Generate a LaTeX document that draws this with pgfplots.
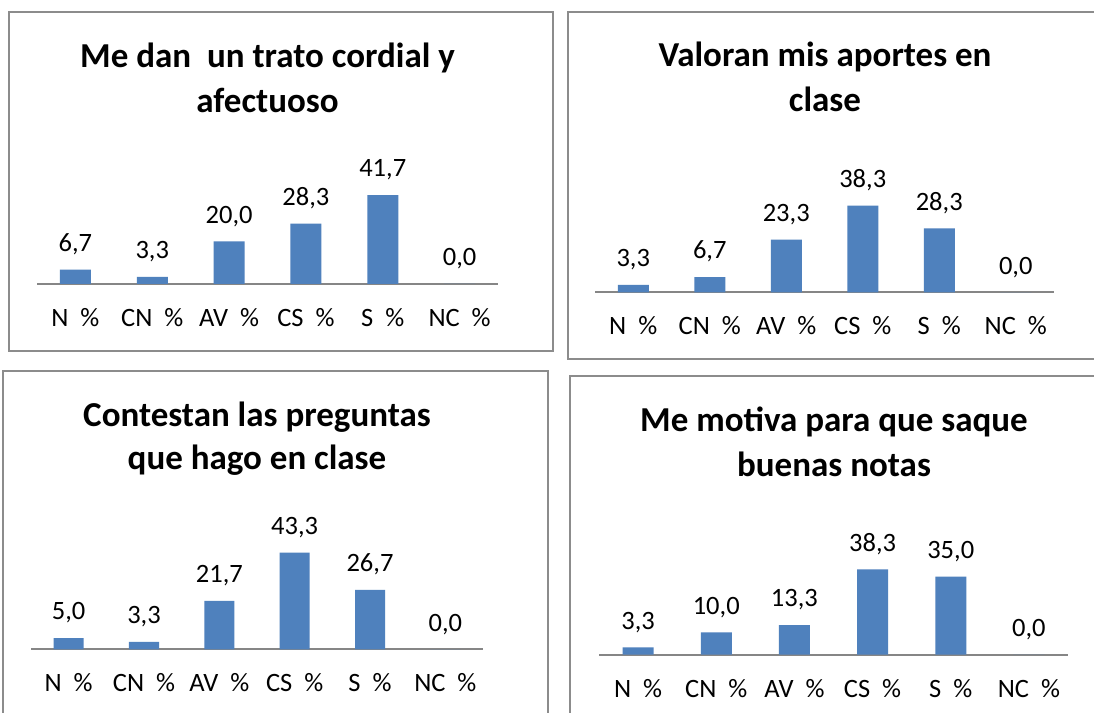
\documentclass[border=0pt]{standalone}
\usepackage{pgfplots}
\pgfplotsset{compat=1.18}
\usepackage{fontspec}
\setmainfont{Carlito}
\definecolor{barblue}{HTML}{4F81BD}
\definecolor{axgray}{HTML}{868686}
\definecolor{boxgray}{HTML}{8C8C8C}
\newcommand{\lblfont}{\fontsize{26.5bp}{31bp}\selectfont}
\newcommand{\ttlfont}{\fontsize{35bp}{42bp}\selectfont\bfseries}
\pgfplotsset{
  panel/.style={
    scale only axis,
    anchor=south west,
    xmin=-0.5, xmax=5.5, ymin=0,
    axis x line=bottom, axis y line=none,
    x axis line style={draw=axgray, line width=1.6bp, -},
    xtick={0,1,2,3,4,5},
    xticklabels={N\ \ \%, CN\ \ \%, AV\ \ \%, CS\ \ \%, S\ \ \%, NC\ \ \%},
    major tick length=0pt,
    ytick=\empty,
    xticklabel style={anchor=base, yshift=-42.5bp, inner sep=0pt, font=\lblfont, text=black},
    ybar, bar width=31bp,
    nodes near coords={\pgfmathprintnumber[fixed,fixed zerofill,precision=1,use comma,assume math mode=true]{\pgfplotspointmeta}},
    every node near coord/.append style={font=\lblfont, inner sep=0pt, text depth=0pt, yshift=18bp, text=black},
    clip=false,
  },
  barstyle/.style={fill=barblue, draw=none},
}
\begin{document}
\begin{tikzpicture}
\useasboundingbox (0,0) rectangle (1094bp,713bp);
\clip (0,0) rectangle (1094bp,713bp);
\fill[white] (0,0) rectangle (1094bp,713bp);
% panel boxes
\draw[boxgray, line width=1.6bp] (9bp,701bp) rectangle (553bp,362bp);
\draw[boxgray, line width=1.6bp] (568bp,701bp) rectangle (1110bp,354bp);
\draw[boxgray, line width=1.6bp] (3bp,342bp) rectangle (548bp,-20bp);
\draw[boxgray, line width=1.6bp] (570bp,337bp) rectangle (1110bp,-20bp);
% titles
\node[anchor=base, inner sep=0pt, font=\ttlfont] at (267.5bp,645bp) {Me dan\ \ un trato cordial y};
\node[anchor=base, inner sep=0pt, font=\ttlfont] at (267.5bp,600bp) {afectuoso};
\node[anchor=base, inner sep=0pt, font=\ttlfont] at (825bp,646.3bp) {Valoran mis aportes en};
\node[anchor=base, inner sep=0pt, font=\ttlfont] at (825bp,601.3bp) {clase};
\node[anchor=base, inner sep=0pt, font=\ttlfont] at (257bp,286.3bp) {Contestan las preguntas};
\node[anchor=base, inner sep=0pt, font=\ttlfont] at (257bp,243bp) {que hago en clase};
\node[anchor=base, inner sep=0pt, font=\ttlfont] at (834bp,281.3bp) {Me motiva para que saque};
\node[anchor=base, inner sep=0pt, font=\ttlfont] at (834bp,236.3bp) {buenas notas};
% panel 1
\begin{axis}[panel, at={(37bp,429bp)}, width=461bp, height=106.5bp, ymax=50]
\addplot[barstyle] coordinates {(0,6.7) (1,3.3) (2,20.0) (3,28.3) (4,41.7) (5,0.0)};
\end{axis}
% panel 2
\begin{axis}[panel, at={(595bp,420.7bp)}, width=459bp, height=101.7bp, ymax=45]
\addplot[barstyle] coordinates {(0,3.3) (1,6.7) (2,23.3) (3,38.3) (4,28.3) (5,0.0)};
\end{axis}
% panel 3
\begin{axis}[panel, at={(31bp,63.7bp)}, width=452bp, height=111.5bp, ymax=50, bar width=30bp]
\addplot[barstyle] coordinates {(0,5.0) (1,3.3) (2,21.7) (3,43.3) (4,26.7) (5,0.0)};
\end{axis}
% panel 4
\begin{axis}[panel, at={(599bp,58.3bp)}, width=469bp, height=100.4bp, ymax=45]
\addplot[barstyle] coordinates {(0,3.3) (1,10.0) (2,13.3) (3,38.3) (4,35.0) (5,0.0)};
\end{axis}
\end{tikzpicture}
\end{document}
